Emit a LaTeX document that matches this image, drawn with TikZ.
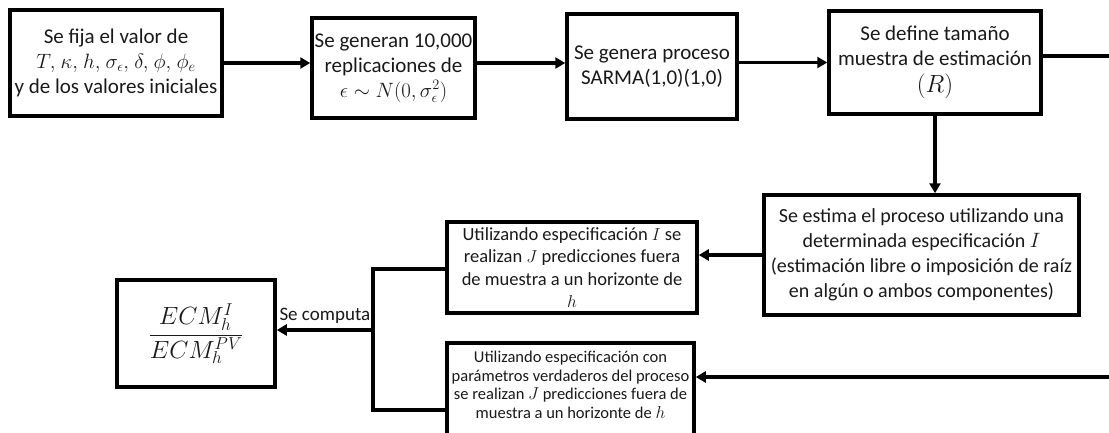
\documentclass[tikz,border=0pt]{standalone}
\usepackage{fontspec}
\setmainfont{Carlito}
\usetikzlibrary{arrows.meta}
\begin{document}
\begin{tikzpicture}[x=1pt,y=-1pt,
  box/.style={draw=black, line width=3.5pt, inner sep=0pt, align=center,
    font=\fontsize{21}{25}\selectfont, text=black!90},
  arr/.style={line width=3.5pt, -{Triangle[length=10pt,width=11pt]}},
  ln/.style={line width=3.5pt, line join=miter}]
\useasboundingbox (0,0) rectangle (1109,432);
\clip (0,0) rectangle (1109,432);
\node[box, minimum width=212pt, minimum height=106pt] (b1) at (116,63)
  {Se fija el valor de\\ {\fontsize{22}{25}\selectfont$T,\mskip1.5mu\kappa,\mskip1.5mu h,\mskip1.5mu\sigma_\epsilon,\mskip1.5mu\delta,\mskip1.5mu\phi,\mskip1.5mu\phi_e$}\\ y de los valores iniciales};
\node[box, minimum width=163pt, minimum height=100pt] (b2) at (393.5,68)
  {Se generan 10,000\\ replicaciones de\\ $\epsilon\sim N(0,\sigma_\epsilon^2)$};
\node[box, minimum width=170pt, minimum height=105pt] (b3) at (652,66.5)
  {Se genera proceso\\ SARMA(1,0)(1,0)};
\node[box, minimum width=212pt, minimum height=103pt] (b4) at (935,62.5)
  {Se define tamaño\\ muestra de estimación\\[2pt] {\fontsize{26}{28}\selectfont$(R)$}};
\node[box, minimum width=315pt, minimum height=120pt, font=\fontsize{20}{25}\selectfont] (b5) at (921.5,255)
  {Se estima el proceso utilizando una\\ determinada especificación $I$\\ (estimación libre o imposición de raíz\\ en algún o ambos componentes)};
\node[box, minimum width=250pt, minimum height=91pt, font=\fontsize{18.5}{22.5}\selectfont] (b6) at (572,267.5)
  {Utilizando especificación $I$ se\\ realizan $J$ predicciones fuera\\ de muestra a un horizonte de\\ $h$};
\node[box, minimum width=247pt, minimum height=102pt, font=\fontsize{16.5}{18.5}\selectfont] (b7) at (570.5,394)
  {Utilizando especificación con\\ parámetros verdaderos del proceso\\ se realizan $J$ predicciones fuera de\\ muestra a un horizonte de $h$\\ ~};
\node[box, minimum width=158pt, minimum height=107pt, font=\fontsize{23.5}{28}\selectfont] (b8) at (196,333.5)
  {$\displaystyle\frac{ECM_h^I}{ECM_h^{PV}}$};
\coordinate (R1) at (1109,56);
\coordinate (R2) at (1109,377);
\coordinate (BT) at (373,269);
\coordinate (BB) at (373,410);
\coordinate (J) at (373,330);
\draw[arr] (b1.east) -- (b1.east -| b2.west);
\draw[arr] (b2.east |- b1.east) -- (b3.west |- b1.east);
\draw[arr] (b3.east |- b4.west) -- (b4.west);
\draw[ln] (b4.east |- R1) -- (R1);
\draw[arr] (b4.south) -- (b4.south |- b5.north);
\draw[arr] (b5.west) -- (b5.west -| b6.east);
\draw[arr] (R2) -- (R2 -| b7.east);
\draw[ln] (b6.west |- BT) -- (BT) -- (BB) -- (b7.west |- BB);
\draw[arr] (J) -- node[above=1pt, font=\fontsize{19}{21}\selectfont, text=black!90] (lab) {Se computa} (J -| b8.east);
\end{tikzpicture}
\end{document}
